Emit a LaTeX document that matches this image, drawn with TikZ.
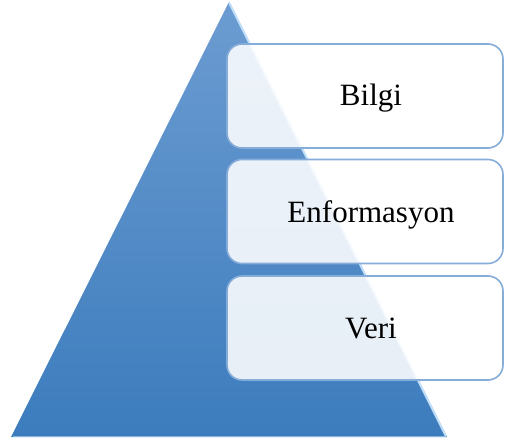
\documentclass[tikz,border=0pt]{standalone}
\usepackage{fontspec}
\setmainfont{Liberation Serif}
\newfontfamily\tierfont{Liberation Serif}
\usetikzlibrary{calc}
\definecolor{pyrtop}{RGB}{108,156,209}
\definecolor{pyrbot}{RGB}{60,124,189}
\definecolor{pyrhi}{RGB}{190,222,250}
\definecolor{tierline}{RGB}{134,172,218}
\tikzset{
  tier/.style={draw=tierline, line width=1.6pt, rounded corners=15pt,
    fill=white, fill opacity=0.88, minimum width=276pt, minimum height=104pt,
    inner sep=0pt},
  tiertext/.style={anchor=base, font=\tierfont\fontsize{31}{31}\selectfont, text=black}
}
\begin{document}
\begin{tikzpicture}[x=1pt,y=-1pt]
\useasboundingbox (0,0) rectangle (505,443);
% pyramid body
\coordinate (apex) at (229,2);
\coordinate (bl) at (11,437);
\coordinate (br) at (447,437);
\shade[top color=pyrtop, bottom color=pyrbot] (apex) -- (br) -- (bl) -- cycle;
% bevel highlights on the right and bottom edges
\draw[pyrhi, line width=2pt, line cap=round] ($(apex)+(0.6,1.5)$) -- ($(br)+(-1.2,-1)$);
\draw[pyrhi!60!pyrbot, line width=1pt] ($(bl)+(2,-1)$) -- ($(br)+(-2,-1)$);
% tiers
\node[tier] (bilgi) at (365,96) {};
\node[tier] (enf) at (365,211.5) {};
\node[tier] (veri) at (365,328) {};
\node[tiertext] (tb) at (371,106) {Bilgi};
\node[tiertext] (te) at (371,222.5) {Enformasyon};
\node[tiertext] (tv) at (371,338.5) {Veri};
\end{tikzpicture}
\end{document}
